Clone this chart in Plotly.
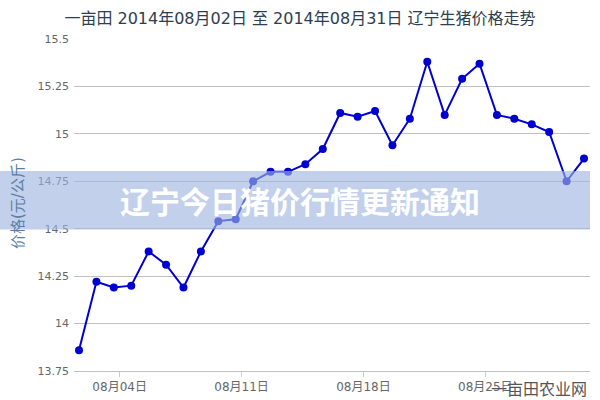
import plotly.graph_objects as go

dates = ["2014-08-%02d" % d for d in range(2, 32)]
prices = [13.86, 14.22, 14.19, 14.20, 14.38, 14.31, 14.19, 14.38, 14.54, 14.55,
          14.75, 14.80, 14.80, 14.84, 14.92, 15.11, 15.09, 15.12, 14.94, 15.08,
          15.38, 15.10, 15.29, 15.37, 15.10, 15.08, 15.05, 15.01, 14.75, 14.87]

tick_vals = ["2014-08-04 08:00", "2014-08-11 08:00", "2014-08-18 08:00", "2014-08-25 08:00"]
tick_text = ["08月04日", "08月11日", "08月18日", "08月25日"]
y_ticks = [13.75, 14, 14.25, 14.5, 14.75, 15, 15.25, 15.5]
y_text = ["13.75", "14", "14.25", "14.5", "14.75", "15", "15.25", "15.5"]

title_text = "一亩田 2014年08月02日 至 2014年08月31日 辽宁生猪价格走势"
y_title = "价格(元/公斤)"
banner_text = "辽宁今日猪价行情更新通知"
watermark = "一亩田农业网"

FONT = "DejaVu Sans, Noto Sans CJK SC, sans-serif"

fig = go.Figure()
fig.add_trace(go.Scatter(
    x=dates, y=prices, mode="lines+markers",
    line=dict(color="#0000d0", width=2),
    marker=dict(color="#0000d0", size=8),
    hoverinfo="x+y", showlegend=False,
))

L, R, T, B = 74, 10, 39, 29
W, H = 600, 400
pw, ph = W - L - R, H - T - B

def px_x(p):
    return (p - L) / pw

def px_y(p):
    return (H - B - p) / ph

fig.update_layout(
    width=W, height=H,
    margin=dict(l=L, r=R, t=T, b=B, autoexpand=False),
    paper_bgcolor="white", plot_bgcolor="white",
    font=dict(family=FONT, color="#666666"),
    title=dict(text=title_text, x=0.5, xanchor="center", y=1 - 18 / H, yanchor="middle",
               font=dict(size=16, color="#2c3e50", family=FONT)),
    xaxis=dict(
        type="date",
        range=["2014-08-01 17:06", "2014-08-31 08:17"],
        tickvals=tick_vals, ticktext=tick_text,
        ticks="outside", ticklen=5, tickcolor="#c0d0e0", tickwidth=1,
        showgrid=False, zeroline=False,
        showline=True, linecolor="#c0c0c0", linewidth=1,
        tickfont=dict(size=12, color="#666666"),
        ticklabelstandoff=0,
    ),
    yaxis=dict(
        range=[13.75, 15.5],
        tickvals=y_ticks, ticktext=y_text,
        showgrid=True, gridcolor="#c0c0c0", gridwidth=1,
        zeroline=False, showline=False, ticks="",
        tickfont=dict(size=11, color="#666666"),
        ticklabelstandoff=4,
    ),
    shapes=[dict(
        type="rect", xref="paper", yref="paper",
        x0=px_x(0), x1=px_x(590), y0=px_y(229.5), y1=px_y(171),
        fillcolor="rgba(159,180,225,0.63)", line=dict(width=0), layer="above",
    )],
    annotations=[
        dict(text=y_title, xref="paper", yref="paper", x=px_x(18), y=px_y(203),
             textangle=-90, showarrow=False, xanchor="center", yanchor="middle",
             font=dict(size=15, color="#5a7fa3", family=FONT)),
        dict(text="<b>" + banner_text + "</b>", xref="paper", yref="paper",
             x=px_x(300), y=px_y(200), showarrow=False, xanchor="center", yanchor="middle",
             font=dict(size=30, color="white", family="Noto Sans CJK SC, sans-serif")),
        dict(text=watermark, xref="paper", yref="paper", x=px_x(589), y=px_y(388),
             showarrow=False, xanchor="right", yanchor="middle",
             font=dict(size=16, color="#555555", family="Noto Sans CJK SC, sans-serif")),
    ],
)

fig.write_html("out.html", config={"displayModeBar": False},
               post_script="document.body.style.margin='0';document.body.style.overflow='hidden';")
